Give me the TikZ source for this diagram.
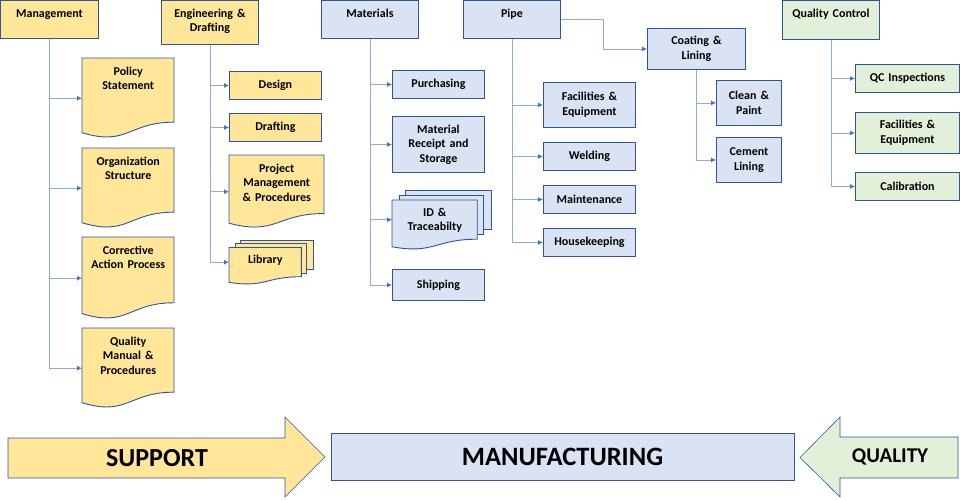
\documentclass[tikz,border=0pt]{standalone}
\usepackage{fontspec}
\setmainfont{Carlito}
\usetikzlibrary{arrows.meta}
\definecolor{yel}{HTML}{FFE699}
\definecolor{blu}{HTML}{DAE3F3}
\definecolor{grn}{HTML}{E2F0D9}
\definecolor{bord}{HTML}{2F5597}
\definecolor{lnc}{HTML}{8FAADC}
\definecolor{arrc}{HTML}{4472C4}
\tikzset{>=latex}
\tikzset{
  boxfont/.style={font=\fontsize{12}{14.5}\selectfont\bfseries},
  hdr/.style={boxfont, draw=bord, line width=0.9pt, anchor=north west, align=center, inner xsep=2pt, inner ysep=0pt, text height=17pt},
  rbox/.style={boxfont, draw=bord, line width=0.9pt, anchor=north west, align=center, inner xsep=2pt, inner ysep=0pt},
  doctext/.style={boxfont, anchor=north west, align=center, inner xsep=2pt, inner ysep=0pt},
  docline/.style={draw=bord, line width=0.9pt},
  conn/.style={draw=lnc, line width=0.9pt, -{Latex[length=5pt,width=5pt,color=arrc]}},
  bigarrow/.style={draw=bord, line width=0.6pt},
  bigfont/.style={font=\fontsize{#1}{#1}\selectfont\bfseries}
}
% document shape: name, x, y, width, height, text
\newcommand{\docnode}[6]{%
  \begin{scope}[shift={(#2,#3)}, x=#4pt, y=-#5pt]
    \filldraw[docline, fill=yel] (0,0) -- (1,0) -- (1,0.802)
      .. controls (0.5,0.802) and (0.5,1.107) .. (0,0.934) -- cycle;
  \end{scope}
  \node[doctext, text width=#4pt-4pt, text height=17pt, text depth=#5pt-17pt] (#1) at (#2,#3) {#6};
}
% stacked documents: name, x, y, width, height, fill, text
\newcommand{\multidoc}[7]{%
  \begin{scope}[shift={(#2,#3)}, x=#4pt, y=-#5pt]
    \filldraw[docline, fill=#6] (0.138,0) rectangle (1,0.666);
    \filldraw[docline, fill=#6] (0.071,0.084) rectangle (0.926,0.757);
    \filldraw[docline, fill=#6] (0,0.17) -- (0.861,0.17) -- (0.861,0.834)
      .. controls (0.43,0.834) and (0.43,1.093) .. (0,0.962) -- cycle;
  \end{scope}
  \node[doctext, text width=0.861*#4pt-4pt, text height=0.17*#5pt+16pt, text depth=0.83*#5pt-16pt] (#1) at (#2,#3) {#7};
}

\begin{document}
\begin{tikzpicture}[x=1pt, y=-1pt]
  \useasboundingbox (0,0) rectangle (960,499);

  % headings
  \node[hdr, fill=yel, text width=94pt, text depth=21pt] (mgmt) at (0,0) {Management};
  \node[hdr, fill=yel, text width=93pt, text depth=27pt] (eng) at (161,0) {Engineering \&\\Drafting};
  \node[hdr, fill=blu, text width=93pt, text depth=21pt] (mat) at (321,0) {Materials};
  \node[hdr, fill=blu, text width=93pt, text depth=21pt] (pipe) at (463,0) {Pipe};
  \node[hdr, fill=grn, text width=93pt, text depth=22pt] (qc) at (782,0) {Quality Control};
  \node[rbox, fill=blu, text width=94pt, minimum height=41pt] (coat) at (647,28) {Coating \&\\Lining};

  % management
  \docnode{policy}{82}{58}{92}{80}{Policy\\Statement}
  \docnode{org}{82}{148}{92}{80}{Organization\\Structure}
  \docnode{corr}{82}{237}{92}{82}{Corrective\\Action Process}
  \docnode{qman}{82}{328}{92}{80}{Quality\\Manual \&\\Procedures}

  % engineering
  \node[rbox, fill=yel, text width=88pt, minimum height=28pt] (design) at (229,71) {Design};
  \node[rbox, fill=yel, text width=88pt, minimum height=28pt] (draft) at (229,113) {Drafting};
  \docnode{proj}{229}{155}{95}{73}{Project\\Management\\\& Procedures}
  \multidoc{lib}{229}{240}{84}{44}{yel}{Library}

  % materials
  \node[rbox, fill=blu, text width=88pt, minimum height=28pt] (purch) at (392,70) {Purchasing};
  \node[rbox, fill=blu, text width=88pt, minimum height=56pt] (receipt) at (392,116) {Material\\Receipt and\\Storage};
  \multidoc{ident}{392}{190}{99}{59}{blu}{ID \&\\Traceabilty}
  \node[rbox, fill=blu, text width=88pt, minimum height=31pt] (ship) at (392,269) {Shipping};

  % pipe
  \node[rbox, fill=blu, text width=88pt, minimum height=45pt] (pfac) at (543,82) {Facilities \&\\Equipment};
  \node[rbox, fill=blu, text width=88pt, minimum height=28pt] (weld) at (543,142) {Welding};
  \node[rbox, fill=blu, text width=88pt, minimum height=28pt] (maint) at (543,185) {Maintenance};
  \node[rbox, fill=blu, text width=88pt, minimum height=28pt] (house) at (543,228) {Housekeeping};

  % coating
  \node[rbox, fill=blu, text width=61pt, minimum height=45pt] (paint) at (716,80) {Clean \&\\Paint};
  \node[rbox, fill=blu, text width=61pt, minimum height=45pt] (cement) at (716,137) {Cement\\Lining};

  % quality control
  \node[rbox, fill=grn, text width=100pt, minimum height=28pt] (insp) at (855,64) {QC Inspections};
  \node[rbox, fill=grn, text width=100pt, minimum height=41pt] (qfac) at (855,112) {Facilities \&\\Equipment};
  \node[rbox, fill=grn, text width=100pt, minimum height=28pt] (calib) at (855,172) {Calibration};

  % connectors
  \draw[conn] (mgmt.south) |- (policy.west);
  \draw[conn] (mgmt.south) |- (org.west);
  \draw[conn] (mgmt.south) |- (corr.west);
  \draw[conn] (mgmt.south) |- (qman.west);
  \draw[conn] (eng.south) |- (design.west);
  \draw[conn] (eng.south) |- (draft.west);
  \draw[conn] (eng.south) |- (proj.west);
  \draw[conn] (eng.south) |- (lib.west);
  \draw[conn] (mat.south) |- (purch.west);
  \draw[conn] (mat.south) |- (receipt.west);
  \draw[conn] (mat.south) |- (ident.west);
  \draw[conn] (mat.south) |- (ship.west);
  \draw[conn] (pipe.south) |- (pfac.west);
  \draw[conn] (pipe.south) |- (weld.west);
  \draw[conn] (pipe.south) |- (maint.west);
  \draw[conn] (pipe.south) |- (house.west);
  \draw[conn] (pipe.east) -- ++(43,0) |- (coat.west);
  \draw[conn] (coat.south) |- (paint.west);
  \draw[conn] (coat.south) |- (cement.west);
  \draw[conn] (qc.south) |- (insp.west);
  \draw[conn] (qc.south) |- (qfac.west);
  \draw[conn] (qc.south) |- (calib.west);

  % bottom band
  \filldraw[bigarrow, fill=yel] (8,438) -- (285,438) -- (285,417) -- (325,457) -- (285,497) -- (285,478) -- (8,478) -- cycle;
  \node[bigfont=26] (support) at (157,458) {SUPPORT};
  \node[bigarrow, fill=blu, minimum width=463pt, minimum height=47pt, bigfont=26.5] (manu) at (562.5,456.5) {MANUFACTURING};
  \filldraw[bigarrow, fill=grn] (958,437) -- (840,437) -- (840,417) -- (800,457.5) -- (840,497) -- (840,478) -- (958,478) -- cycle;
  \node[bigfont=21] (quality) at (890,457) {QUALITY};
\end{tikzpicture}
\end{document}
